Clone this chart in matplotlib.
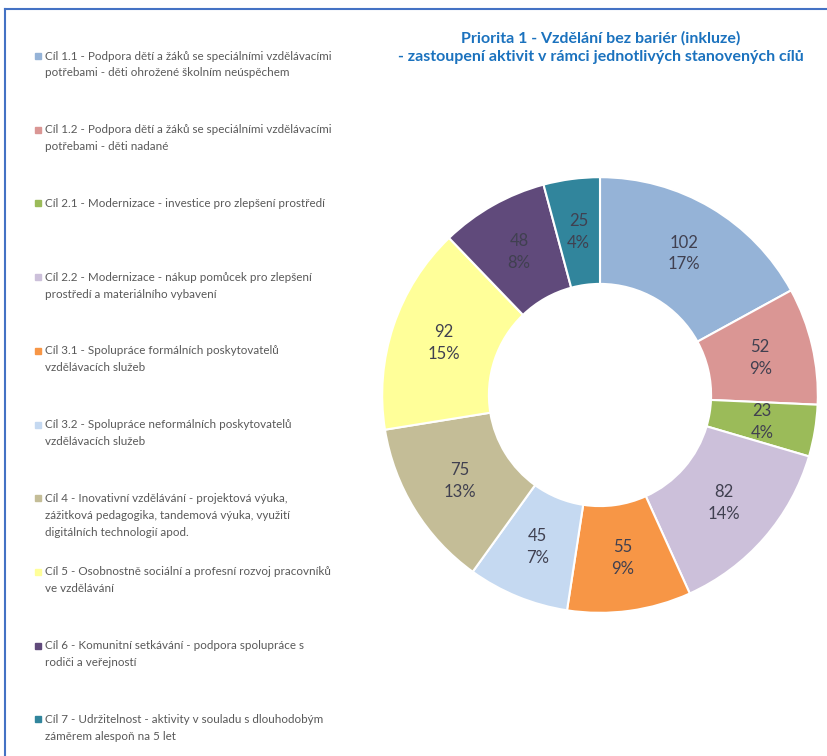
import matplotlib.pyplot as plt
from matplotlib.lines import Line2D

# data
values = [102, 52, 23, 82, 55, 45, 75, 92, 48, 25]
shares = [17, 9, 4, 14, 9, 7, 13, 15, 8, 4]  # % as printed in the chart
colors = ['#95B3D7', '#DA9694', '#9BBB59', '#CCC0DA', '#F79646',
          '#C5D9F1', '#C4BD97', '#FFFF99', '#604A7B', '#31859C']
legend_lines = [
    ["Cíl 1.1 - Podpora dětí a žáků se speciálními vzdělávacími",
     "potřebami - děti ohrožené školním neúspěchem"],
    ["Cíl 1.2 - Podpora dětí a žáků se speciálními vzdělávacími",
     "potřebami - děti nadané"],
    ["Cíl 2.1 - Modernizace - investice pro zlepšení prostředí"],
    ["Cíl 2.2 - Modernizace - nákup pomůcek pro zlepšení",
     "prostředí a materiálního vybavení"],
    ["Cíl 3.1 - Spolupráce formálních poskytovatelů",
     "vzdělávacích služeb"],
    ["Cíl 3.2 - Spolupráce neformálních poskytovatelů",
     "vzdělávacích služeb"],
    ["Cíl 4 - Inovativní vzdělávání - projektová výuka,",
     "zážitková pedagogika, tandemová výuka, využití",
     "digitálních technologií apod."],
    ["Cíl 5 - Osobnostně sociální a profesní rozvoj pracovníků",
     "ve vzdělávání"],
    ["Cíl 6 - Komunitní setkávání - podpora spolupráce s",
     "rodiči a veřejností"],
    ["Cíl 7 - Udržitelnost - aktivity v souladu s dlouhodobým",
     "záměrem alespoň na 5 let"],
]
title_lines = ["Priorita 1 - Vzdělání bez bariér (inkluze)",
               "- zastoupení aktivit v rámci jednotlivých stanovených cílů"]

W, H = 827, 756
plt.rcParams['font.family'] = ['Lato', 'DejaVu Sans']
fig = plt.figure(figsize=(W / 100, H / 100), dpi=100)
fig.patch.set_facecolor('white')


def fx(px):
    return px / W


def fy(py):
    return 1 - py / H


# blue frame (left and top edges)
fig.add_artist(Line2D([fx(5), fx(5)], [fy(9), 0], color='#4472C4', lw=1.5))
fig.add_artist(Line2D([fx(5), 1], [fy(9), fy(9)], color='#4472C4', lw=1.5))

# donut
cx, cy, r = 600, 395, 220
ax = fig.add_axes([fx(cx - r), fy(cy + r), 2 * r / W, 2 * r / H])
labels = ["%d\n%d%%" % (v, s) for v, s in zip(values, shares)]
wedges, texts = ax.pie(values, colors=colors, startangle=90, counterclock=False,
                       radius=1, labels=labels, labeldistance=0.755,
                       wedgeprops=dict(width=0.49, edgecolor='white', linewidth=1.5),
                       textprops=dict(color='#404050', fontsize=12, ha='center',
                                      va='center', linespacing=1.45))
ax.set_xlim(-1.01, 1.01)
ax.set_ylim(-1.01, 1.01)
ax.set_aspect('equal')
ax.axis('off')

# title
for i, line in enumerate(title_lines):
    fig.text(fx(601), fy(38 + i * 19), line, ha='center', va='center',
             fontsize=11.5, fontweight='bold', color='#1B72BE')

# legend
y0, step, lh = 56, 73.7, 17
for i, lines in enumerate(legend_lines):
    y = y0 + i * step
    fig.add_artist(Line2D([fx(38)], [fy(y)], marker='s', markersize=4.5,
                          color=colors[i], linestyle='none'))
    for k, line in enumerate(lines):
        fig.text(fx(45), fy(y + k * lh), line, ha='left', va='center',
                 fontsize=8.4, color='#595959')

fig.savefig('out.png', dpi=100)
